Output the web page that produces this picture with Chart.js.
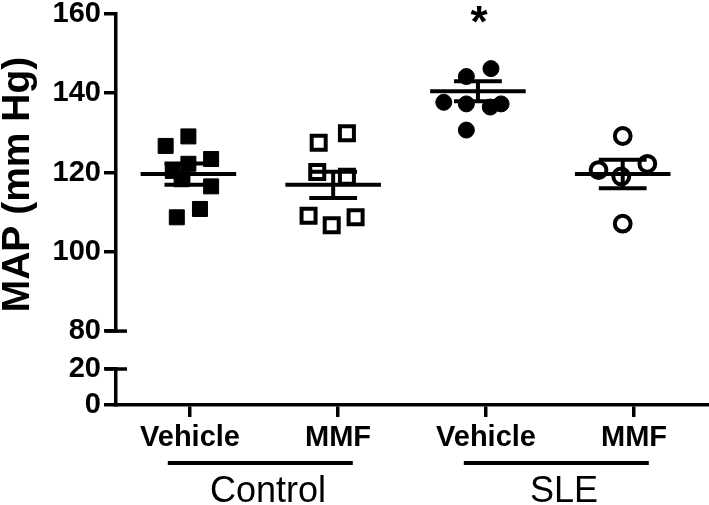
<!DOCTYPE html>
<html>
<head>
<meta charset="utf-8">
<script src="https://cdn.jsdelivr.net/npm/chart.js"></script>
<style>
  body { margin: 0; background: #fff; }
  .box { position: absolute; left: 0; width: 709px; }
</style>
</head>
<body>
<div class="box" style="top:0;height:345px"><canvas id="topChart" width="709" height="345"></canvas></div>
<div class="box" style="top:345px;height:160px"><canvas id="bottomChart" width="709" height="160"></canvas></div>
<script>
// groups on the x axis
const categories = ['Vehicle', 'MMF', 'Vehicle', 'MMF'];
const groupLabels = ['Control', 'SLE'];
const groupStarts = [0, 2];
const groupEnds = [1, 3];
const significance = ['', '', '*', ''];
const yTitle = 'MAP (mm Hg)';

// MAP values (mm Hg) for each animal
const controlVehicle = [126.7, 129.1, 123.4, 122.2, 120.4, 118.3, 116.5, 110.8, 108.7];
const controlMMF = [127.5, 129.9, 120.1, 118.9, 109.1, 106.7, 108.7];
const sleVehicle = [146.2, 144.2, 137.7, 137.3, 136.5, 137.3, 130.7];
const sleMMF = [129.2, 120.6, 119.0, 122.2, 107.1];

// horizontal scatter of the dots, in category widths
const controlVehicleJitter = [-0.157, 0, 0.157, 0, -0.108, -0.047, 0.157, 0.08, -0.08];
const controlMMFJitter = [-0.10, 0.095, -0.11, 0.095, -0.17, -0.01, 0.155];
const sleVehicleJitter = [0.09, -0.08, -0.236, -0.08, 0.085, 0.16, -0.08];
const sleMMFJitter = [0, -0.167, -0.01, 0.17, 0];

// mean and SEM per group
const means = [119.6, 116.9, 140.5, 119.6];
const sems = [2.7, 3.3, 2.5, 3.6];

// axis ticks
const upperTicks = [80, 100, 120, 140, 160];
const lowerTicks = [0, 20];

const FONT = '"Liberation Sans", Arial, sans-serif';

function toPoints(values, jitter, idx) {
    return values.map((v, i) => ({ x: idx + jitter[i], y: v }));
}

function fixY(width) {
    return function(s) {
        s.width = width;
        s.paddingTop = 0;
        s.paddingBottom = 0;
    };
}

const meanSemPlugin = {
    id: 'meanSem',
    afterDatasetsDraw(chart) {
        const { ctx, scales: { x, y } } = chart;
        ctx.save();
        ctx.strokeStyle = '#000';
        ctx.lineWidth = 4;
        means.forEach((m, i) => {
            const ym = y.getPixelForValue(m);
            const yt = y.getPixelForValue(m + sems[i]);
            const yb = y.getPixelForValue(m - sems[i]);
            const xc = x.getPixelForValue(i);
            ctx.beginPath();
            ctx.moveTo(x.getPixelForValue(i - 0.33), ym);
            ctx.lineTo(x.getPixelForValue(i + 0.33), ym);
            ctx.moveTo(x.getPixelForValue(i - 0.165), yt);
            ctx.lineTo(x.getPixelForValue(i + 0.165), yt);
            ctx.moveTo(x.getPixelForValue(i - 0.165), yb);
            ctx.lineTo(x.getPixelForValue(i + 0.165), yb);
            ctx.moveTo(xc, yt);
            ctx.lineTo(xc, yb);
            ctx.stroke();
        });
        // significance stars
        ctx.fillStyle = '#000';
        ctx.font = 'bold 44px ' + FONT;
        ctx.textAlign = 'center';
        ctx.textBaseline = 'alphabetic';
        significance.forEach((s, i) => {
            if (s) ctx.fillText(s, x.getPixelForValue(i) + 1, chart.chartArea.top + 23);
        });
        ctx.restore();
    }
};

// y axis title, a little below the middle of the upper segment
const titlePlugin = {
    id: 'yTitle',
    afterDraw(chart) {
        const { ctx, chartArea } = chart;
        ctx.save();
        ctx.translate(29, (chartArea.top + chartArea.bottom) / 2 + 12);
        ctx.rotate(-Math.PI / 2);
        ctx.fillStyle = '#000';
        ctx.font = 'bold 39px ' + FONT;
        ctx.textAlign = 'center';
        ctx.textBaseline = 'alphabetic';
        ctx.fillText(yTitle, 0, 0);
        ctx.restore();
    }
};

// small cap across the y axis where it is broken
function breakCap(which) {
    return {
        id: 'breakCap',
        afterDraw(chart) {
            const { ctx, scales: { y } } = chart;
            const py = y.getPixelForValue(which === 'min' ? y.min : y.max);
            const ax = chart.chartArea.left;
            ctx.save();
            ctx.strokeStyle = '#000';
            ctx.lineWidth = 3.5;
            ctx.beginPath();
            ctx.moveTo(ax - 11, py);
            ctx.lineTo(ax + 11, py);
            ctx.stroke();
            ctx.restore();
        }
    };
}

const groupPlugin = {
    id: 'groups',
    afterDraw(chart) {
        const { ctx, scales: { x } } = chart;
        const base = chart.chartArea.bottom;
        ctx.save();
        ctx.strokeStyle = '#000';
        ctx.fillStyle = '#000';
        ctx.lineWidth = 4;
        ctx.font = '36px ' + FONT;
        ctx.textAlign = 'center';
        ctx.textBaseline = 'alphabetic';
        groupLabels.forEach((g, k) => {
            ctx.beginPath();
            ctx.moveTo(x.getPixelForValue(groupStarts[k] - 0.15), base + 58);
            ctx.lineTo(x.getPixelForValue(groupEnds[k] + 0.1), base + 58);
            ctx.stroke();
            ctx.fillText(g, x.getPixelForValue((groupStarts[k] + groupEnds[k]) / 2) + 4, base + 97);
        });
        ctx.restore();
    }
};

const axisBorder = { width: 3.5, color: '#000' };
const axisGrid = { drawOnChartArea: false, tickLength: 12, lineWidth: 3.5, color: '#000' };
const tickFont = { family: FONT, size: 29, weight: 'bold', lineHeight: 1 };

new Chart(document.getElementById('topChart'), {
    type: 'scatter',
    data: {
        datasets: [
            {
                data: toPoints(controlVehicle, controlVehicleJitter, 0),
                pointStyle: 'rect', pointRadius: 10.6,
                backgroundColor: '#000', borderColor: '#000', borderWidth: 1
            },
            {
                data: toPoints(controlMMF, controlMMFJitter, 1),
                pointStyle: 'rect', pointRadius: 9.9,
                backgroundColor: '#fff', borderColor: '#000', borderWidth: 4
            },
            {
                data: toPoints(sleVehicle, sleVehicleJitter, 2),
                pointStyle: 'circle', pointRadius: 8,
                backgroundColor: '#000', borderColor: '#000', borderWidth: 1
            },
            {
                data: toPoints(sleMMF, sleMMFJitter, 3),
                pointStyle: 'circle', pointRadius: 7.9,
                backgroundColor: '#fff', borderColor: '#000', borderWidth: 4
            }
        ]
    },
    options: {
        responsive: false,
        animation: false,
        layout: { padding: { left: 0, right: 1, top: 12, bottom: 6 } },
        plugins: { legend: { display: false }, tooltip: { enabled: false } },
        scales: {
            x: { type: 'linear', min: -0.5, max: 3.5, display: false },
            y: {
                min: 80,
                max: 160,
                afterBuildTicks: s => { s.ticks = upperTicks.map(v => ({ value: v })); },
                ticks: { font: tickFont, color: '#000', padding: 3 },
                grid: axisGrid,
                border: axisBorder,
                afterFit: fixY(116)
            }
        }
    },
    plugins: [meanSemPlugin, breakCap('min'), titlePlugin]
});

new Chart(document.getElementById('bottomChart'), {
    type: 'scatter',
    data: { datasets: [] },
    options: {
        responsive: false,
        animation: false,
        layout: { padding: { left: 0, right: 1, top: 24, bottom: 0 } },
        plugins: { legend: { display: false }, tooltip: { enabled: false } },
        scales: {
            x: {
                type: 'linear',
                min: -0.5,
                max: 3.5,
                afterBuildTicks: s => { s.ticks = categories.map((c, i) => ({ value: i })); },
                ticks: { font: tickFont, color: '#000', padding: 6, callback: v => categories[v] },
                grid: axisGrid,
                border: axisBorder,
                afterFit: s => { s.height = 100; s.paddingLeft = 0; s.paddingRight = 0; }
            },
            y: {
                min: 0,
                max: 20,
                afterBuildTicks: s => { s.ticks = lowerTicks.map(v => ({ value: v })); },
                ticks: { font: tickFont, color: '#000', padding: 3 },
                grid: axisGrid,
                border: axisBorder,
                afterFit: fixY(116)
            }
        }
    },
    plugins: [breakCap('max'), groupPlugin]
});
</script>
</body>
</html>
